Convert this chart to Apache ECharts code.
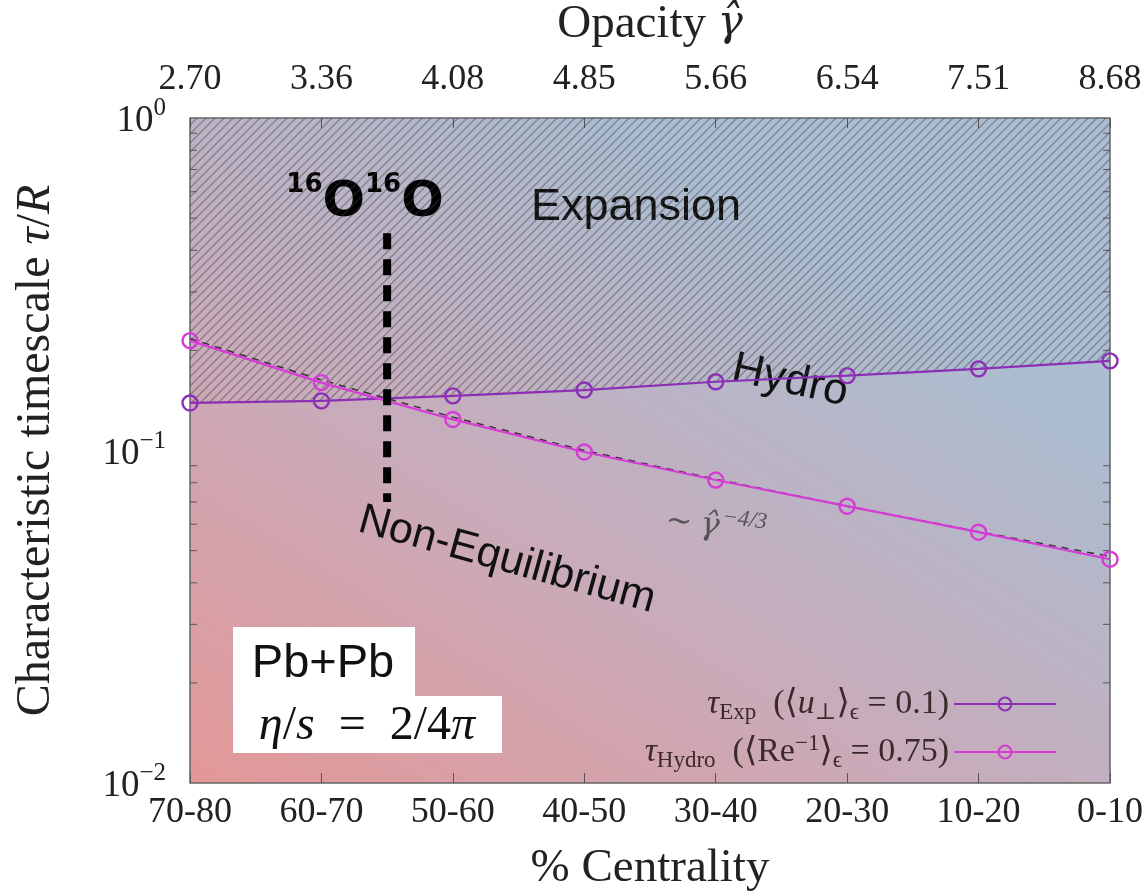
<!DOCTYPE html>
<html lang="en">
<head>
<meta charset="UTF-8">
<title>Characteristic timescales</title>
<script src="https://cdn.jsdelivr.net/npm/echarts@6/dist/echarts.min.js"></script>
<style>
    html, body { margin: 0; padding: 0; background: #fff; }
    #chart { width: 1146px; height: 895px; }
</style>
</head>
<body>
<div id="chart"></div>
<script>
    // values
    var centrality = ['70-80', '60-70', '50-60', '40-50', '30-40', '20-30', '10-20', '0-10'];
    var opacity = ['2.70', '3.36', '4.08', '4.85', '5.66', '6.54', '7.51', '8.68'];
    var tauExp = [0.139, 0.141, 0.146, 0.152, 0.161, 0.168, 0.176, 0.186];
    var tauHydro = [0.214, 0.160, 0.124, 0.099, 0.0815, 0.068, 0.0568, 0.0471];
    var powerFit = [0.217, 0.163, 0.126, 0.100, 0.082, 0.068, 0.057, 0.048];
    var minorTicks = [0.02, 0.03, 0.04, 0.05, 0.06, 0.07, 0.08, 0.09, 0.2, 0.3, 0.4, 0.5, 0.6, 0.7, 0.8, 0.9];
    // O+O marker sits between these two centrality bins
    var oMarker = {left: 1, right: 2, top: 0.45, bottom: 0.07};

    var serif = "'Liberation Serif', 'DejaVu Serif', serif";
    var sans = "'Liberation Sans', Arial, sans-serif";
    var gammaFont = "'DejaVu Serif', serif";

    // hatch pattern for the expansion region
    var tile = document.createElement('canvas');
    tile.width = 9;
    tile.height = 9;
    var ctx = tile.getContext('2d');
    ctx.strokeStyle = 'rgba(60,60,70,0.45)';
    ctx.lineWidth = 1.3;
    ctx.beginPath();
    ctx.moveTo(-1, 10); ctx.lineTo(10, -1);
    ctx.moveTo(-1, 1); ctx.lineTo(1, -1);
    ctx.moveTo(8, 10); ctx.lineTo(10, 8);
    ctx.stroke();

    var chart = echarts.init(document.getElementById('chart'));

    function supLabel(value) {
        var e = Math.round(Math.log10(value));
        return '{b|10}{s|' + (e < 0 ? '\u2212' + (-e) : e) + '}';
    }

    var option = {
        backgroundColor: '#fff',
        animation: false,
        grid: {
            left: 190, right: 36, top: 118, bottom: 112,
            outerBoundsMode: 'none',
            show: true,
            borderColor: '#666',
            borderWidth: 1.5,
            backgroundColor: {
                type: 'linear', x: 0, y: 1, x2: 0.45, y2: 0,
                colorStops: [
                    {offset: 0, color: '#e39797'},
                    {offset: 0.5, color: '#c9abba'},
                    {offset: 1, color: '#abbdd0'}
                ]
            }
        },
        legend: {
            data: ['exp', 'hydro'],
            orient: 'vertical',
            right: 84,
            top: 682,
            align: 'right',
            itemWidth: 102,
            itemHeight: 16,
            itemGap: 8,
            formatter: function (name) {
                if (name === 'exp') {
                    return '{t|\u03c4}{sub|Exp}{n|  (\u27e8}{t|u}{sub|\u22a5}{n|\u27e9}{sub|\u03f5}{n| = 0.1)}';
                }
                return '{t|\u03c4}{sub|Hydro}{n|  (\u27e8Re}{sup|\u22121}{n|\u27e9}{sub|\u03f5}{n| = 0.75)}';
            },
            textStyle: {
                color: '#3a2a2a',
                fontFamily: serif,
                rich: {
                    n: {fontSize: 34, fontFamily: serif, color: '#3a2a2a', lineHeight: 40, verticalAlign: 'middle'},
                    t: {fontSize: 34, fontFamily: serif, fontStyle: 'italic', color: '#3a2a2a', lineHeight: 40, verticalAlign: 'middle'},
                    sub: {fontSize: 23, fontFamily: serif, color: '#3a2a2a', lineHeight: 22, verticalAlign: 'bottom'},
                    sup: {fontSize: 23, fontFamily: serif, color: '#3a2a2a', lineHeight: 22, verticalAlign: 'top'}
                }
            }
        },
        xAxis: [{
            type: 'category',
            data: centrality,
            boundaryGap: false,
            position: 'bottom',
            axisLine: {show: false},
            axisTick: {inside: true, length: 10, lineStyle: {color: '#555'}},
            axisLabel: {fontFamily: serif, fontSize: 36, color: '#222', margin: 12},
            splitLine: {show: false},
            name: '% Centrality',
            nameLocation: 'middle',
            nameGap: 62,
            nameTextStyle: {fontFamily: serif, fontSize: 47, color: '#222'}
        }, {
            type: 'category',
            data: opacity,
            boundaryGap: false,
            position: 'top',
            axisLine: {show: false},
            axisTick: {inside: true, length: 10, lineStyle: {color: '#555'}},
            axisLabel: {fontFamily: serif, fontSize: 36, color: '#222', margin: 20},
            splitLine: {show: false},
            name: '{n|Opacity }{g|\u03b3\u0302}',
            nameLocation: 'middle',
            nameGap: 70,
            nameTextStyle: {
                rich: {
                    n: {fontFamily: serif, fontSize: 47, color: '#222'},
                    g: {fontFamily: gammaFont, fontStyle: 'italic', fontSize: 42, color: '#222'}
                }
            }
        }],
        yAxis: [{
            type: 'log',
            logBase: 10,
            min: 0.01,
            max: 1,
            position: 'left',
            axisLine: {show: false},
            axisTick: {inside: true, length: 14, lineStyle: {color: '#555'}},
            splitLine: {show: false},
            axisLabel: {
                margin: 24,
                formatter: supLabel,
                rich: {
                    b: {fontFamily: serif, fontSize: 37, color: '#222', lineHeight: 44, verticalAlign: 'bottom'},
                    s: {fontFamily: serif, fontSize: 25, color: '#222', lineHeight: 24, verticalAlign: 'top'}
                }
            },
            name: '{n|Characteristic timescale }{i|\u03c4}{n|/}{i|R}',
            nameLocation: 'middle',
            nameGap: 130,
            nameTextStyle: {
                rich: {
                    n: {fontFamily: serif, fontSize: 48, color: '#222'},
                    i: {fontFamily: serif, fontSize: 48, fontStyle: 'italic', color: '#222'}
                }
            }
        }, {
            type: 'log',
            logBase: 10,
            min: 0.01,
            max: 1,
            position: 'right',
            axisLine: {show: false},
            axisTick: {inside: true, length: 14, lineStyle: {color: '#555'}},
            axisLabel: {show: false},
            splitLine: {show: false}
        }],
        series: [{
            // hatched expansion region above tau_Exp
            name: 'expansion',
            type: 'custom',
            z: 1,
            silent: true,
            data: tauExp.map(function (v, i) { return [i, v]; }),
            renderItem: function (params, api) {
                if (params.dataIndex !== 0) return null;
                var pts = tauExp.map(function (v, i) { return api.coord([i, v]); });
                pts.push(api.coord([tauExp.length - 1, 1]));
                pts.push(api.coord([0, 1]));
                return {
                    type: 'polygon',
                    shape: {points: pts},
                    style: {fill: {image: tile, repeat: 'repeat'}}
                };
            }
        }, {
            // minor log ticks on both frame sides
            name: 'minor',
            type: 'custom',
            z: 2,
            silent: true,
            data: minorTicks.map(function (v) { return [0, v]; }),
            renderItem: function (params, api) {
                var v = api.value(1);
                var l = api.coord([0, v]);
                var r = api.coord([centrality.length - 1, v]);
                var st = {stroke: '#555', lineWidth: 1};
                return {
                    type: 'group',
                    children: [
                        {type: 'line', shape: {x1: l[0], y1: l[1], x2: l[0] + 7, y2: l[1]}, style: st},
                        {type: 'line', shape: {x1: r[0], y1: r[1], x2: r[0] - 7, y2: r[1]}, style: st}
                    ]
                };
            }
        }, {
            name: 'fit',
            type: 'line',
            data: powerFit,
            symbol: 'none',
            z: 3,
            lineStyle: {color: '#333', width: 1.5, type: [7, 6]}
        }, {
            name: 'exp',
            type: 'line',
            data: tauExp,
            z: 4,
            symbol: 'circle',
            symbolSize: 15,
            color: '#8c2fb6',
            lineStyle: {color: '#8c2fb6', width: 2.2},
            itemStyle: {color: 'rgba(0,0,0,0)', borderColor: '#8c2fb6', borderWidth: 2.4}
        }, {
            name: 'hydro',
            type: 'line',
            data: tauHydro,
            z: 4,
            symbol: 'circle',
            symbolSize: 15,
            color: '#d63bd6',
            lineStyle: {color: '#d63bd6', width: 2.2},
            itemStyle: {color: 'rgba(0,0,0,0)', borderColor: '#d63bd6', borderWidth: 2.4}
        }, {
            // vertical dashed O+O marker
            name: 'oo',
            type: 'custom',
            z: 5,
            silent: true,
            data: [[oMarker.left, oMarker.top, oMarker.bottom]],
            renderItem: function (params, api) {
                var a = api.coord([oMarker.left, oMarker.top]);
                var b = api.coord([oMarker.right, oMarker.top]);
                var c = api.coord([oMarker.left, oMarker.bottom]);
                var x = (a[0] + b[0]) / 2;
                return {
                    type: 'line',
                    shape: {x1: x, y1: a[1], x2: x, y2: c[1]},
                    style: {stroke: '#000', lineWidth: 8, lineDash: [16, 10]}
                };
            }
        }],
        graphic: [
            {
                type: 'text', x: 636, y: 208,
                style: {text: 'Expansion', font: '45px ' + sans, fill: '#111', align: 'center', verticalAlign: 'middle'}
            },
            {
                type: 'text', x: 790, y: 381, rotation: -0.22,
                style: {text: 'Hydro', font: '44px ' + sans, fill: '#111', align: 'center', verticalAlign: 'middle'}
            },
            {
                type: 'text', x: 507, y: 560, rotation: -0.27,
                style: {text: 'Non-Equilibrium', font: '43px ' + sans, fill: '#111', align: 'center', verticalAlign: 'middle'}
            },
            {
                type: 'text', x: 716, y: 524, rotation: -0.12,
                style: {
                    text: '{n|\u223c }{i|\u03b3\u0302}{s|\u22124/3}',
                    align: 'center', verticalAlign: 'middle',
                    rich: {
                        n: {font: '32px ' + serif, fill: '#555', lineHeight: 38, verticalAlign: 'bottom'},
                        i: {font: 'italic 32px ' + gammaFont, fill: '#555', lineHeight: 38, verticalAlign: 'bottom'},
                        s: {font: 'italic 23px ' + serif, fill: '#555', lineHeight: 20, verticalAlign: 'top', padding: [0, 0, 0, 2]}
                    }
                }
            },
            {
                type: 'text', x: 365, y: 200,
                style: {
                    text: '{s|16}{b|O}{s|16}{b|O}',
                    align: 'center', verticalAlign: 'middle',
                    rich: {
                        s: {font: 'bold 26px ' + "'DejaVu Sans', sans-serif", fill: '#000', lineHeight: 28, verticalAlign: 'top'},
                        b: {font: 'bold 50px ' + "'DejaVu Sans', sans-serif", fill: '#000', lineHeight: 56, verticalAlign: 'bottom'}
                    }
                }
            },
            {type: 'rect', shape: {x: 233, y: 627, width: 182, height: 70}, style: {fill: '#fff'}},
            {type: 'rect', shape: {x: 233, y: 696, width: 269, height: 57}, style: {fill: '#fff'}},
            {
                type: 'text', x: 323, y: 664,
                style: {text: 'Pb+Pb', font: '47px ' + sans, fill: '#111', align: 'center', verticalAlign: 'middle'}
            },
            {
                type: 'text', x: 367, y: 726,
                style: {
                    text: '{i|\u03b7}{n|/}{i|s}{n|  =  2/4}{i|\u03c0}',
                    align: 'center', verticalAlign: 'middle',
                    rich: {
                        i: {font: 'italic 48px ' + serif, fill: '#111'},
                        n: {font: '48px ' + serif, fill: '#111'}
                    }
                }
            }
        ]
    };
    chart.setOption(option);
</script>
</body>
</html>
